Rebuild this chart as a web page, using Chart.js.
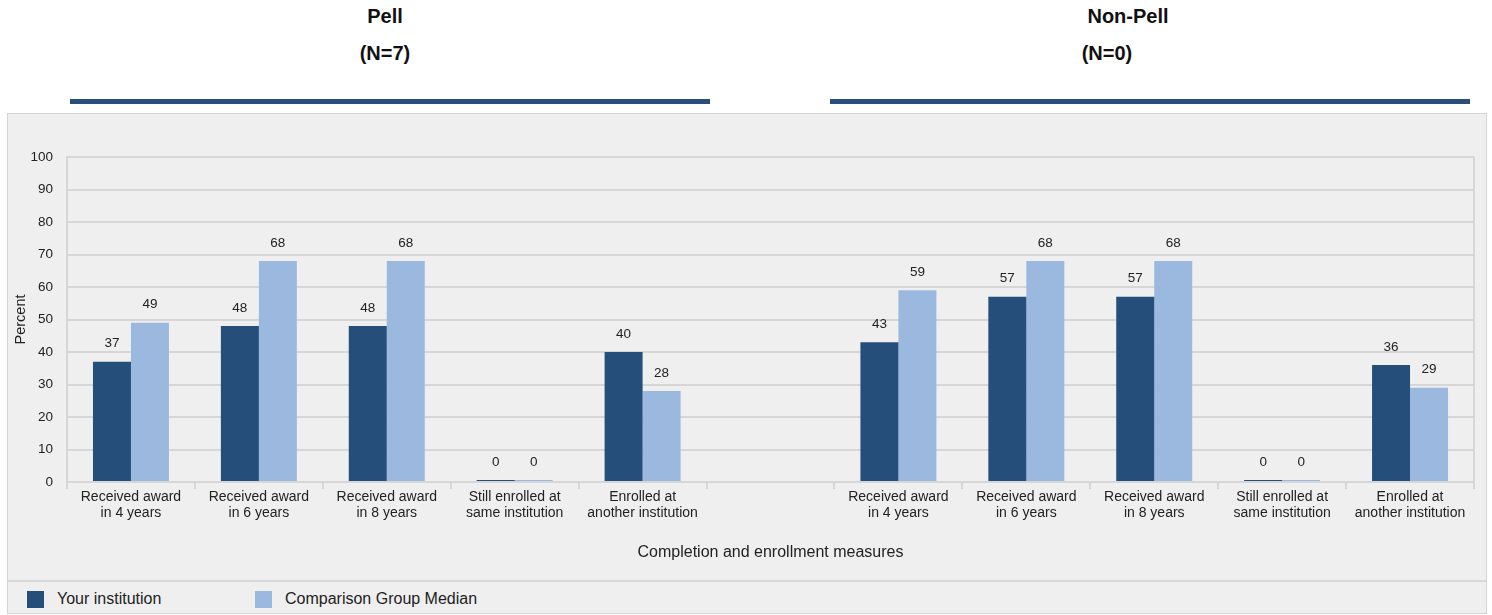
<!DOCTYPE html>
<html>
<head>
<meta charset="utf-8">
<script src="https://cdn.jsdelivr.net/npm/chart.js@4/dist/chart.umd.min.js"></script>
<style>
  html, body { margin: 0; padding: 0; background: #fff; }
  body { width: 1492px; height: 615px; position: relative; overflow: hidden;
         font-family: "Liberation Sans", Arial, sans-serif; color: #111; }
  .cab { position: absolute; font-weight: bold; font-size: 20px; text-align: center; width: 200px; }
  .faixa { position: absolute; top: 99px; height: 5px; width: 640px; background: #284e79; }
  #caixa { position: absolute; left: 7px; top: 113px; width: 1478px; height: 499px;
           border: 1px solid #d4d4d4; background: #efefef; }
  #area { position: absolute; left: 0; top: 0; width: 1478px; height: 466px; }
  #legenda { position: absolute; left: 0; top: 466px; width: 1478px; height: 31px;
             border-top: 2px solid #d8d8d8; font-size: 16px; color: #222; }
  #legenda span { position: absolute; top: 8px; line-height: 17px; }
  #legenda i { position: absolute; top: 9px; width: 17px; height: 17px; }
</style>
</head>
<body>
<div class="cab" style="left:285px; top:5px;">Pell</div>
<div class="cab" style="left:285px; top:42px;">(N=7)</div>
<div class="cab" style="left:1028px; top:5px;">Non-Pell</div>
<div class="cab" style="left:1007px; top:42px;">(N=0)</div>
<div class="faixa" style="left:70px;"></div>
<div class="faixa" style="left:830px;"></div>

<div id="caixa">
  <div id="area"><canvas id="grafico"></canvas></div>
  <div id="legenda">
    <i style="left:19px; background:#254e7b;"></i><span style="left:49px;">Your institution</span>
    <i style="left:247px; background:#9bb9de;"></i><span style="left:277px;">Comparison Group Median</span>
  </div>
</div>

<script>
// categorias: 5 do Pell, uma vazia de separação, 5 do Non-Pell
const CATEGORIAS = [
  ["Received award", "in 4 years"], ["Received award", "in 6 years"],
  ["Received award", "in 8 years"], ["Still enrolled at", "same institution"],
  ["Enrolled at", "another institution"],
  "",
  ["Received award", "in 4 years"], ["Received award", "in 6 years"],
  ["Received award", "in 8 years"], ["Still enrolled at", "same institution"],
  ["Enrolled at", "another institution"],
];
const SUA_INSTITUICAO = [37, 48, 48, 0, 40, null, 43, 57, 57, 0, 36];
const MEDIANA_GRUPO = [49, 68, 68, 0, 28, null, 59, 68, 68, 0, 29];
const TICKS_Y = [0, 10, 20, 30, 40, 50, 60, 70, 80, 90, 100];

const FONTE = "'Liberation Sans', Arial, sans-serif";
const CINZA = "#d6d6d6";

// rótulos de valor acima das barras
const rotulos = {
  id: "rotulos",
  afterDatasetsDraw(chart) {
    const ctx = chart.ctx;
    ctx.save();
    ctx.font = `13.5px ${FONTE}`;
    ctx.fillStyle = "#222";
    ctx.textAlign = "center";
    ctx.textBaseline = "middle";
    chart.data.datasets.forEach((ds, i) => {
      chart.getDatasetMeta(i).data.forEach((bar, j) => {
        const v = ds.data[j];
        if (v === null) return;
        ctx.fillText(String(v), bar.x, bar.y - 18);
      });
    });
    ctx.restore();
  },
};

// linha da borda direita da área do gráfico
const bordaDireita = {
  id: "bordaDireita",
  beforeDatasetsDraw(chart) {
    const { ctx, chartArea: a } = chart;
    ctx.save();
    ctx.strokeStyle = CINZA;
    ctx.lineWidth = 2;
    ctx.beginPath();
    ctx.moveTo(a.right, a.top);
    ctx.lineTo(a.right, a.bottom);
    ctx.stroke();
    ctx.restore();
  },
};

new Chart(document.getElementById("grafico"), {
  type: "bar",
  data: {
    labels: CATEGORIAS,
    datasets: [
      { label: "Your institution", data: SUA_INSTITUICAO, backgroundColor: "#254e7b",
        minBarLength: 2 },
      { label: "Comparison Group Median", data: MEDIANA_GRUPO, backgroundColor: "#9bb9de",
        minBarLength: 2 },
    ],
  },
  options: {
    responsive: true,
    maintainAspectRatio: false,
    animation: false,
    datasets: { bar: { categoryPercentage: 0.594, barPercentage: 1 } },
    layout: { padding: { top: 43, right: 12, left: 0, bottom: 0 } },
    plugins: {
      legend: { display: false },
      tooltip: { enabled: false },
    },
    scales: {
      x: {
        grid: { drawOnChartArea: false, drawTicks: true, tickLength: 7,
                tickColor: CINZA, lineWidth: 2, offset: true },
        border: { color: CINZA, width: 2 },
        ticks: { color: "#222", padding: 0, maxRotation: 0, autoSkip: false,
                 font: { family: FONTE, size: 14, lineHeight: 1.17 } },
        title: { display: true, text: "Completion and enrollment measures", color: "#222",
                 font: { family: FONTE, size: 16 }, padding: { top: 4, bottom: 18 } },
        afterFit: s => { s.height = 98; },
      },
      y: {
        min: 0, max: 100,
        afterBuildTicks: s => { s.ticks = TICKS_Y.map(v => ({ value: v })); },
        grid: { color: CINZA, lineWidth: 2, drawTicks: false },
        border: { color: CINZA, width: 2 },
        ticks: { color: "#222", padding: 14, font: { family: FONTE, size: 13.5 } },
        title: { display: true, text: "Percent", color: "#222",
                 font: { family: FONTE, size: 14.5 }, padding: { top: 4, bottom: 4 } },
        afterFit: s => { s.width = 59; },
      },
    },
  },
  plugins: [rotulos, bordaDireita],
});
</script>
</body>
</html>
